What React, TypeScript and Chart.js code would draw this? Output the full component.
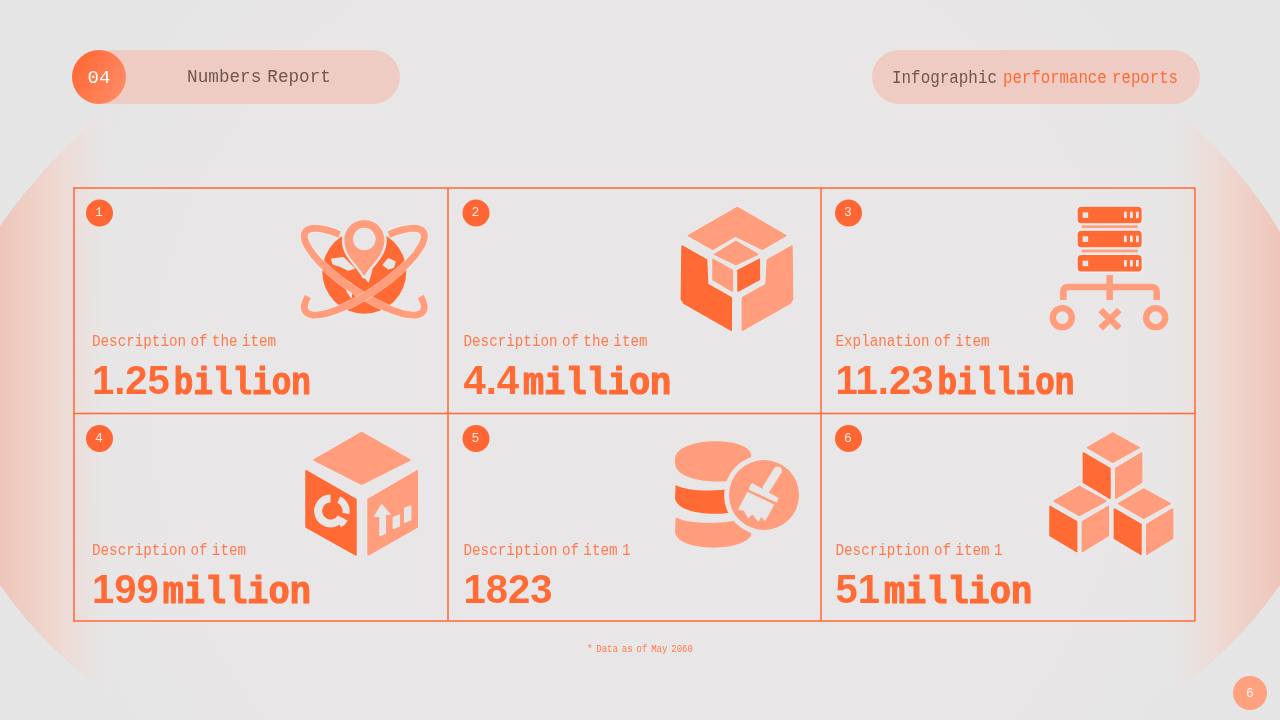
import React, { useEffect, useRef } from "react";
import { Chart, registerables } from "chart.js";

Chart.register(...registerables);

const sectionNumber = "04";
const sectionTitle = "Numbers Report";
const bannerLead = "Infographic";
const bannerRest = "performance reports";
const itemNumbers = ["1", "2", "3", "4", "5", "6"];
const itemDescriptions = [
  "Description of the item",
  "Description of the item",
  "Explanation of item",
  "Description of item",
  "Description of item 1",
  "Description of item 1",
];
const itemValues = ["1.25", "4.4", "11.23", "199", "1823", "51"];
const itemUnits = ["billion", "million", "billion", "million", "", "million"];
const footnote = "* Data as of May 2060";
const pageNumber = "6";

const DARK = "#ff6a35";
const LIGHT = "#ff9d7c";
const BG = "#e8e6e6";
const MONO = '"Liberation Mono"';

const colLines = [74, 448, 821, 1195];
const rowLines = [188, 413.5, 621];
const textXs = [92, 463.5, 835.5];
const badgeXs = [99.5, 476, 848.5];
const badgeYs = [213, 438.5];
const descYs = [341, 550];
const figYs = [394, 603];
const unitScale: Record<string, number> = { billion: 0.836, million: 0.904 };

type Pt = [number, number];

function App() {
  const ref = useRef<HTMLCanvasElement | null>(null);
  useEffect(() => {
    document.body.style.margin = "0";
    const canvas = ref.current!;

    const text = (
      c: CanvasRenderingContext2D,
      s: string,
      x: number,
      y: number,
      font: string,
      color: string,
      sx = 1,
      ws = 0,
      align: CanvasTextAlign = "left",
      base: CanvasTextBaseline = "middle",
      embolden = 0
    ) => {
      c.save();
      c.font = font;
      c.fillStyle = color;
      c.textAlign = align;
      c.textBaseline = base;
      (c as any).wordSpacing = ws + "px";
      c.translate(x, y);
      c.scale(sx, 1);
      if (embolden > 0) {
        c.strokeStyle = color;
        c.lineWidth = embolden;
        c.lineJoin = "round";
        c.strokeText(s, 0, 0);
      }
      c.fillText(s, 0, 0);
      c.restore();
    };

    const poly = (
      c: CanvasRenderingContext2D,
      ox: number,
      oy: number,
      pts: Pt[],
      color: string,
      halo = true
    ) => {
      c.save();
      c.beginPath();
      pts.forEach((p, i) => {
        const x = ox + p[0] / 3;
        const y = oy + p[1] / 3;
        if (i === 0) c.moveTo(x, y);
        else c.lineTo(x, y);
      });
      c.closePath();
      c.lineJoin = "round";
      if (halo) {
        c.strokeStyle = "rgba(255,255,255,0.3)";
        c.lineWidth = 3;
        c.stroke();
      }
      c.strokeStyle = color;
      c.lineWidth = 1.5;
      c.stroke();
      c.fillStyle = color;
      c.fill();
      c.restore();
    };

    const drawBackdrop = (c: CanvasRenderingContext2D, w: number, h: number) => {
      const base = c.createRadialGradient(640, 400, 150, 640, 400, 760);
      base.addColorStop(0, "#e8e6e6");
      base.addColorStop(0.55, "#e8e6e6");
      base.addColorStop(1, "#e5e5e5");
      c.fillStyle = base;
      c.fillRect(0, 0, w, h);
      c.save();
      c.beginPath();
      c.moveTo(0, 226);
      c.quadraticCurveTo(38, 170, 115, 100);
      c.lineTo(115, 700);
      c.quadraticCurveTo(45, 650, 0, 585);
      c.closePath();
      const g = c.createLinearGradient(0, 0, 115, 0);
      g.addColorStop(0, "rgba(238,196,182,0.95)");
      g.addColorStop(0.4, "rgba(241,208,198,0.8)");
      g.addColorStop(0.7, "rgba(240,216,209,0.45)");
      g.addColorStop(1, "rgba(232,230,230,0)");
      c.fillStyle = g;
      c.fill();
      c.beginPath();
      c.moveTo(1280, 232);
      c.quadraticCurveTo(1245, 170, 1165, 100);
      c.lineTo(1165, 700);
      c.quadraticCurveTo(1235, 650, 1280, 585);
      c.closePath();
      const r = c.createLinearGradient(1165, 0, 1280, 0);
      r.addColorStop(0, "rgba(232,230,230,0)");
      r.addColorStop(0.3, "rgba(240,216,209,0.45)");
      r.addColorStop(0.6, "rgba(241,208,198,0.8)");
      r.addColorStop(1, "rgba(238,196,182,0.95)");
      c.fillStyle = r;
      c.fill();
      c.restore();
    };

    const drawHeader = (c: CanvasRenderingContext2D) => {
      c.fillStyle = "#eeccc4";
      c.beginPath();
      c.roundRect(72, 50, 328, 54, 27);
      c.fill();
      c.beginPath();
      c.roundRect(872, 50, 328, 54, 27);
      c.fill();
      const g = c.createLinearGradient(72, 60, 126, 90);
      g.addColorStop(0, "#ff6633");
      g.addColorStop(1, "#ff8c66");
      c.fillStyle = g;
      c.beginPath();
      c.arc(99, 77, 27, 0, Math.PI * 2);
      c.fill();
      const ff = `19px ${MONO}`;
      text(c, sectionNumber, 99, 77.5, ff, "#ffffff", 1, 0, "center");
      text(c, sectionTitle, 259, 76.5, ff, "#6f5650", 0.93, -5, "center");
      text(c, bannerLead, 892, 77.5, ff, "#6f5650", 0.837);
      text(c, bannerRest, 1003, 77.5, ff, DARK, 0.827, -5);
    };

    const iconGlobe = (c: CanvasRenderingContext2D) => {
      const o: [number, number] = [280, 190];
      const cx = 364.3;
      const cy = 271.7;
      c.save();
      c.fillStyle = DARK;
      c.beginPath();
      c.arc(cx, cy, 42, 0, Math.PI * 2);
      c.fill();
      const land: Pt[][] = [
        [[155, 208], [190, 203], [222, 235], [205, 240], [180, 228], [160, 222]],
        [[195, 272], [212, 280], [214, 322], [202, 305]],
        [[310, 225], [325, 207], [345, 215], [340, 232], [325, 236]],
        [[250, 255], [275, 240], [265, 275]],
      ];
      land.forEach((p) => poly(c, o[0], o[1], p, BG, false));
      const rot = (34 * Math.PI) / 180;
      const orbit = (r: number, a: number, b: number, ccw: boolean) => {
        c.beginPath();
        c.ellipse(cx, cy, 71, 21, r, a, b, ccw);
        c.lineCap = "butt";
        c.strokeStyle = "rgba(255,255,255,0.5)";
        c.lineWidth = 8.5;
        c.stroke();
        c.strokeStyle = LIGHT;
        c.lineWidth = 7;
        c.stroke();
      };
      orbit(rot, -0.55, Math.PI + 0.95, false);
      orbit(-rot, Math.PI + 0.55, -0.95, true);
      c.beginPath();
      c.moveTo(cx, 276);
      c.bezierCurveTo(cx - 6, 265, cx - 20, 256, cx - 20, 240);
      c.arc(cx, 240, 20, Math.PI, 0);
      c.bezierCurveTo(cx + 20, 256, cx + 6, 265, cx, 276);
      c.closePath();
      c.strokeStyle = BG;
      c.lineWidth = 5;
      c.lineJoin = "round";
      c.stroke();
      c.fillStyle = LIGHT;
      c.fill();
      c.fillStyle = BG;
      c.beginPath();
      c.arc(cx, 239, 11.3, 0, Math.PI * 2);
      c.fill();
      c.restore();
    };

    const iconBox = (c: CanvasRenderingContext2D) => {
      const x = 660;
      const y = 195;
      poly(c, x, y, [[232, 37], [378, 122], [307, 163], [226, 123], [158, 163], [85, 122]], LIGHT);
      poly(c, x, y, [[66, 153], [140, 195], [143, 268], [214, 308], [214, 406], [72, 325], [64, 312]], DARK);
      poly(c, x, y, [[396, 153], [322, 195], [318, 268], [247, 308], [247, 406], [390, 325], [398, 312]], LIGHT);
      poly(c, x, y, [[228, 139], [293, 178], [228, 209], [164, 178]], LIGHT, false);
      poly(c, x, y, [[159, 193], [217, 226], [217, 288], [159, 254]], LIGHT, false);
      poly(c, x, y, [[234, 226], [298, 193], [298, 254], [234, 288]], DARK, false);
    };

    const iconServers = (c: CanvasRenderingContext2D) => {
      const ox = 1030;
      const oy = 195;
      c.save();
      [35, 107, 180].forEach((t) => {
        c.fillStyle = "rgba(255,255,255,0.5)";
        c.beginPath();
        c.roundRect(ox + 143 / 3 - 1, oy + t / 3 - 1, 66, 18.5, 4);
        c.fill();
        c.fillStyle = DARK;
        c.beginPath();
        c.roundRect(ox + 143 / 3, oy + t / 3, 64, 16.5, 3.5);
        c.fill();
        c.fillStyle = BG;
        c.fillRect(ox + 158 / 3, oy + (t + 17) / 3, 5.5, 5.5);
        [282, 300, 318].forEach((b) => c.fillRect(ox + b / 3, oy + (t + 15) / 3, 2.8, 6.5));
      });
      c.fillStyle = LIGHT;
      c.fillRect(ox + 155 / 3, oy + 91 / 3, 56, 2.6);
      c.fillRect(ox + 155 / 3, oy + 164 / 3, 56, 2.6);
      c.strokeStyle = LIGHT;
      c.lineWidth = 6.5;
      c.beginPath();
      c.moveTo(ox + 100 / 3, oy + 315 / 3);
      c.lineTo(ox + 100 / 3, oy + 290 / 3);
      c.quadraticCurveTo(ox + 100 / 3, oy + 276 / 3, ox + 115 / 3, oy + 276 / 3);
      c.lineTo(ox + 363 / 3, oy + 276 / 3);
      c.quadraticCurveTo(ox + 380 / 3, oy + 276 / 3, ox + 380 / 3, oy + 290 / 3);
      c.lineTo(ox + 380 / 3, oy + 315 / 3);
      c.moveTo(ox + 239 / 3, oy + 240 / 3);
      c.lineTo(ox + 239 / 3, oy + 315 / 3);
      c.stroke();
      c.lineWidth = 6.4;
      [97, 377].forEach((a) => {
        c.beginPath();
        c.arc(ox + a / 3, oy + 368 / 3, 9.5, 0, Math.PI * 2);
        c.stroke();
      });
      c.beginPath();
      c.moveTo(ox + 212 / 3, oy + 345 / 3);
      c.lineTo(ox + 268 / 3, oy + 400 / 3);
      c.moveTo(ox + 268 / 3, oy + 345 / 3);
      c.lineTo(ox + 212 / 3, oy + 400 / 3);
      c.stroke();
      c.restore();
    };

    const iconAnalytics = (c: CanvasRenderingContext2D) => {
      const x = 290;
      const y = 425;
      poly(c, x, y, [[215, 22], [360, 105], [215, 178], [72, 105]], LIGHT);
      poly(c, x, y, [[48, 137], [198, 223], [198, 390], [48, 306]], DARK);
      poly(c, x, y, [[234, 223], [382, 137], [382, 306], [234, 390]], LIGHT);
      c.save();
      const cx = x + 122 / 3;
      const cy = y + 258 / 3;
      c.strokeStyle = BG;
      c.lineWidth = 8;
      c.beginPath();
      c.arc(cx, cy, 12.5, 0.55, 4.7);
      c.stroke();
      c.lineWidth = 7;
      c.beginPath();
      c.arc(cx + 3, cy, 12.5, -1.15, 0.2);
      c.stroke();
      c.beginPath();
      c.arc(cx + 3, cy + 2, 12.5, 0.5, 1.1);
      c.stroke();
      c.restore();
      poly(c, x, y, [[275, 240], [300, 268], [286, 268], [286, 325], [270, 332], [270, 274], [254, 274]], BG, false);
      poly(c, x, y, [[310, 278], [328, 270], [328, 303], [310, 310]], BG, false);
      poly(c, x, y, [[344, 250], [362, 244], [362, 284], [344, 292]], BG, false);
    };

    const iconDatabase = (c: CanvasRenderingContext2D) => {
      const ox = 665;
      const oy = 430;
      const X = (v: number) => ox + v / 3;
      const Y = (v: number) => oy + v / 3;
      c.save();
      c.fillStyle = LIGHT;
      c.beginPath();
      c.moveTo(X(30), Y(88));
      c.bezierCurveTo(X(30), Y(18), X(255), Y(18), X(258), Y(75));
      c.lineTo(X(258), Y(125));
      c.bezierCurveTo(X(240), Y(168), X(32), Y(168), X(30), Y(100));
      c.closePath();
      c.fill();
      c.fillStyle = DARK;
      c.beginPath();
      c.moveTo(X(32), Y(165));
      c.bezierCurveTo(X(70), Y(188), X(200), Y(188), X(258), Y(160));
      c.lineTo(X(258), Y(230));
      c.bezierCurveTo(X(200), Y(262), X(40), Y(262), X(30), Y(205));
      c.closePath();
      c.fill();
      c.fillStyle = LIGHT;
      c.beginPath();
      c.moveTo(X(32), Y(262));
      c.bezierCurveTo(X(70), Y(285), X(200), Y(285), X(258), Y(258));
      c.lineTo(X(258), Y(315));
      c.bezierCurveTo(X(240), Y(365), X(36), Y(368), X(30), Y(305));
      c.closePath();
      c.fill();
      c.fillStyle = BG;
      c.beginPath();
      c.arc(X(297), Y(195), 40, 0, Math.PI * 2);
      c.fill();
      c.fillStyle = LIGHT;
      c.beginPath();
      c.arc(X(297), Y(195), 35, 0, Math.PI * 2);
      c.fill();
      c.strokeStyle = BG;
      c.lineCap = "round";
      c.lineWidth = 8.5;
      c.beginPath();
      c.moveTo(X(338), Y(122));
      c.lineTo(X(305), Y(175));
      c.stroke();
      c.restore();
      poly(c, ox, oy, [[258, 165], [262, 162], [338, 205], [334, 215], [254, 178]], BG, false);
      poly(c, ox, oy, [[248, 188], [325, 225], [300, 270], [288, 258], [280, 272], [262, 250], [250, 262], [238, 240], [222, 238]], BG, false);
    };

    const iconCubes = (c: CanvasRenderingContext2D) => {
      const x = 1040;
      const y = 425;
      const cube = (dx: number, dy: number) => {
        poly(c, x, y, [[218 + dx, 24 + dy], [298 + dx, 68 + dy], [218 + dx, 112 + dy], [142 + dx, 68 + dy]], LIGHT);
        poly(c, x, y, [[130 + dx, 84 + dy], [210 + dx, 130 + dy], [210 + dx, 220 + dy], [130 + dx, 172 + dy]], DARK);
        poly(c, x, y, [[227 + dx, 130 + dy], [305 + dx, 84 + dy], [305 + dx, 172 + dy], [227 + dx, 220 + dy]], LIGHT);
      };
      cube(0, 0);
      cube(-100, 160);
      cube(93, 168);
    };

    const artwork = {
      id: "artwork",
      beforeDatasetsDraw(chart: Chart) {
        const c = chart.ctx;
        drawBackdrop(c, chart.width, chart.height);
        drawHeader(c);
      },
      afterDatasetsDraw(chart: Chart) {
        const c = chart.ctx;
        iconGlobe(c);
        iconBox(c);
        iconServers(c);
        iconAnalytics(c);
        iconDatabase(c);
        iconCubes(c);
        const xs = chart.scales.x;
        const ys = chart.scales.y;
        const valueFont = 'bold 40px "Liberation Sans"';
        itemNumbers.forEach((n, i) => {
          const col = i % 3;
          const row = Math.floor(i / 3);
          const tx = xs.getPixelForValue(textXs[col]);
          text(c, n, xs.getPixelForValue(badgeXs[col]) - 0.5, ys.getPixelForValue(badgeYs[row]), `13px ${MONO}`, "#ffe9e0", 1, 0, "center");
          text(c, itemDescriptions[i], tx, ys.getPixelForValue(descYs[row]), `17px ${MONO}`, "#ff7a4d", 0.838, -5);
          const fy = ys.getPixelForValue(figYs[row]);
          text(c, itemValues[i], tx, fy, valueFont, DARK, 1, 0, "left", "alphabetic");
          if (itemUnits[i]) {
            c.save();
            c.font = valueFont;
            const w = c.measureText(itemValues[i]).width;
            c.restore();
            text(c, itemUnits[i], tx + w + 4, fy, `bold 39px ${MONO}`, DARK, unitScale[itemUnits[i]], 0, "left", "alphabetic", 1.2);
          }
        });
        text(c, footnote, 640, 649, `11px ${MONO}`, "#ff7a4d", 0.824, -2, "center");
        c.fillStyle = "#ffa07f";
        c.beginPath();
        c.arc(1250, 693, 17, 0, Math.PI * 2);
        c.fill();
        text(c, pageNumber, 1250, 693.5, `13px ${MONO}`, "#fff4ef", 1, 0, "center");
      },
    };

    const lineStyle = { showLine: true, borderColor: DARK, borderWidth: 1.5, pointRadius: 0, fill: false };
    const left = colLines[0] - 1;
    const right = colLines[3];
    const datasets: any[] = [
      ...colLines.map((x) => ({
        ...lineStyle,
        data: [{ x, y: rowLines[0] }, { x, y: rowLines[2] }],
      })),
      ...rowLines.map((y) => ({
        ...lineStyle,
        data: [{ x: left, y }, { x: right, y }],
      })),
      {
        data: itemNumbers.map((_, i) => ({ x: badgeXs[i % 3], y: badgeYs[Math.floor(i / 3)] })),
        pointRadius: 13.5,
        pointBackgroundColor: "#ff6633",
        pointBorderColor: "#ff6633",
        pointBorderWidth: 0,
        showLine: false,
      },
    ];

    const chart = new Chart(canvas, {
      type: "scatter",
      data: { datasets },
      options: {
        responsive: false,
        animation: false,
        layout: { padding: 0, autoPadding: false },
        plugins: { legend: { display: false }, tooltip: { enabled: false } },
        scales: {
          x: { type: "linear", min: 0, max: 1280, display: false },
          y: { type: "linear", min: 0, max: 720, reverse: true, display: false },
        },
      },
      plugins: [artwork],
    } as any);
    return () => chart.destroy();
  }, []);
  return (
    <div style={{ position: "absolute", left: 0, top: 0, width: 1280, height: 720 }}>
      <canvas ref={ref} width={1280} height={720} style={{ display: "block", width: 1280, height: 720 }} />
    </div>
  );
}

export default App;
